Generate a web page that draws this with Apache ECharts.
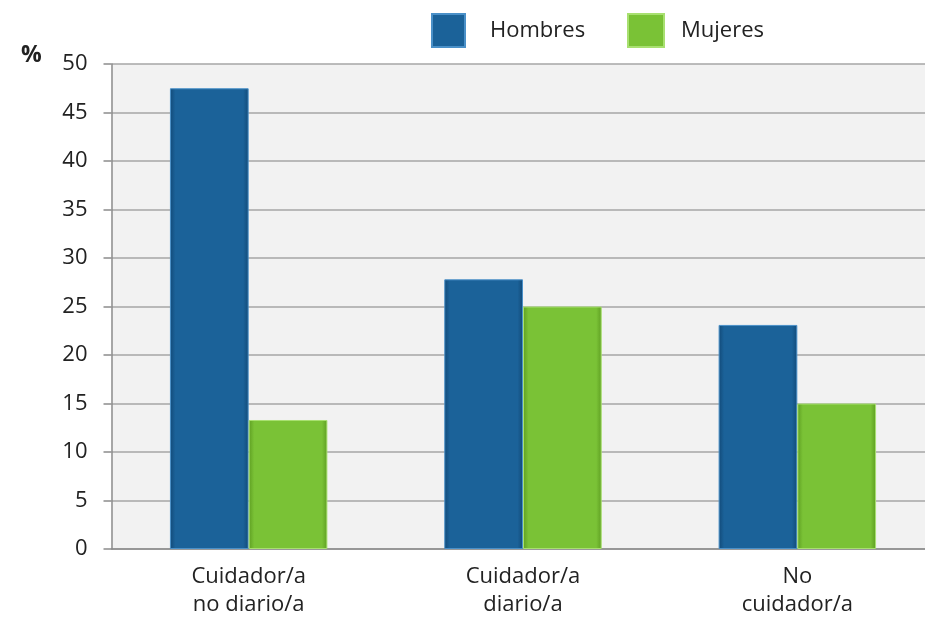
<!DOCTYPE html>
<html><head><meta charset="utf-8">
<script src="https://cdn.jsdelivr.net/npm/echarts@6/dist/echarts.min.js"></script>
<style>html,body{margin:0;padding:0;background:#fff}#c{width:925px;height:621px}</style>
</head><body><div id="c"></div>
<script>
const categories = ['Cuidador/a\nno diario/a', 'Cuidador/a\ndiario/a', 'No\ncuidador/a'];
const hombres = [47.5, 27.8, 23.1];
const mujeres = [13.3, 25.0, 15.0];
const seriesNames = ['Hombres', 'Mujeres'];

const font = '"Open Sans", sans-serif';
function grad(edge, mid) {
  return new echarts.graphic.LinearGradient(0, 0, 1, 0, [
    {offset: 0, color: edge}, {offset: 0.07, color: mid}, {offset: 0.93, color: mid}, {offset: 1, color: edge}
  ]);
}
const legendText1 = {fontSize: 22, color: '#222', fontFamily: font, padding: [0, 0, 0, 20]};
const legendText2 = {fontSize: 22, color: '#222', fontFamily: font, padding: [0, 0, 0, 12]};
const chart = echarts.init(document.getElementById('c'), null, {renderer: 'canvas'});
chart.setOption({
  animation: false,
  backgroundColor: '#fff',
  textStyle: {fontFamily: font},
  legend: [
    {top: 8, left: 426, itemWidth: 33, itemHeight: 33, textStyle: legendText1,
     data: [{name: seriesNames[0], icon: 'rect'}]},
    {top: 8, left: 622, itemWidth: 36, itemHeight: 33, textStyle: legendText2,
     data: [{name: seriesNames[1], icon: 'rect'}]}
  ],
  graphic: [{type: 'text', left: 21, top: 44, style: {text: '%', font: 'bold 23px ' + font, fill: '#222'}}],
  grid: {left: 111.5, top: 64, width: 823, height: 485, show: true, backgroundColor: '#f2f2f2', borderWidth: 0,
         outerBoundsMode: 'none', containLabel: false},
  xAxis: {
    type: 'category', data: categories,
    axisLine: {show: true, lineStyle: {color: '#8c8c8c', width: 1.5}},
    axisTick: {show: false},
    axisLabel: {fontSize: 22, color: '#222', lineHeight: 28, margin: 14, fontFamily: font}
  },
  yAxis: {
    type: 'value', min: 0, max: 50, interval: 5,
    axisLine: {show: true, lineStyle: {color: '#8c8c8c', width: 1.5}},
    axisTick: {show: true, length: 8, lineStyle: {color: '#8c8c8c', width: 1.5}},
    splitLine: {lineStyle: {color: '#a6a6a6', width: 1.5}},
    axisLabel: {fontSize: 22, color: '#222', margin: 24, fontFamily: font}
  },
  series: [
    {name: 'Hombres', type: 'bar', data: hombres, barGap: '0%', barCategoryGap: '42.6%',
     itemStyle: {color: grad('#124a78', '#1b6299'), borderColor: '#4a90c8', borderWidth: 1}},
    {name: 'Mujeres', type: 'bar', data: mujeres,
     itemStyle: {color: grad('#5e9e22', '#7ac236'), borderColor: '#a8e070', borderWidth: 1}}
  ]
});
</script></body></html>
